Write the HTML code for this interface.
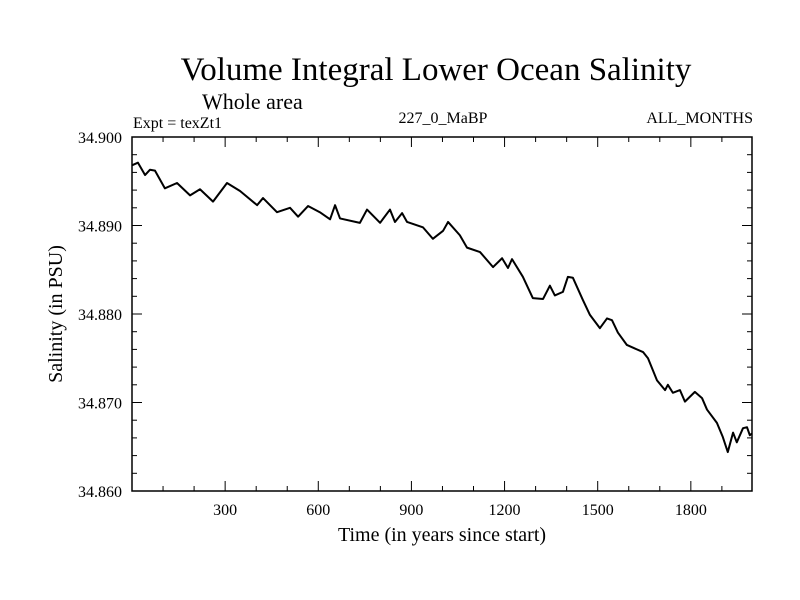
<!DOCTYPE html>
<html><head><meta charset="utf-8"><style>
body{margin:0;background:#fff}
svg{display:block;font-family:"Liberation Serif",serif}
</style></head><body>
<svg id="chart" width="800" height="600" viewBox="0 0 800 600">
<text x="436" y="80" font-size="33" text-anchor="middle">Volume Integral Lower Ocean Salinity</text>
<text x="202" y="109" font-size="22">Whole area</text>
<text x="133" y="128" font-size="16">Expt = texZt1</text>
<text x="443" y="123" font-size="16" text-anchor="middle">227_0_MaBP</text>
<text x="753" y="123" font-size="16" text-anchor="end">ALL_MONTHS</text>
<text x="442" y="541" font-size="20" text-anchor="middle">Time (in years since start)</text>
<text transform="translate(62,314) rotate(-90)" font-size="20" text-anchor="middle">Salinity (in PSU)</text>
<g id="axes"></g>
<rect x="132" y="137" width="620" height="354" fill="none" stroke="#000" stroke-width="1.5"/>
</svg>
<script>
const years=[0,19,42,58,74,106,145,187,219,261,306,348,403,422,467,509,535,567,605,638,654,670,734,757,799,831,847,870,886,937,969,1002,1018,1056,1079,1121,1163,1192,1211,1224,1259,1291,1324,1346,1362,1388,1404,1420,1452,1475,1507,1530,1546,1565,1594,1646,1662,1691,1717,1726,1742,1765,1781,1813,1836,1852,1884,1903,1919,1936,1948,1968,1981,1990,1997];
const salinity=[34.8968,34.8971,34.8957,34.8963,34.8962,34.8942,34.8948,34.8934,34.8941,34.8927,34.8948,34.8939,34.8923,34.8931,34.8915,34.8920,34.8910,34.8922,34.8915,34.8907,34.8923,34.8908,34.8903,34.8918,34.8903,34.8918,34.8904,34.8914,34.8904,34.8898,34.8885,34.8894,34.8904,34.8889,34.8875,34.8870,34.8853,34.8863,34.8852,34.8862,34.8842,34.8818,34.8817,34.8832,34.8821,34.8825,34.8842,34.8841,34.8816,34.8799,34.8784,34.8795,34.8793,34.8779,34.8765,34.8757,34.8750,34.8725,34.8714,34.8720,34.8711,34.8714,34.8701,34.8712,34.8705,34.8692,34.8677,34.8661,34.8644,34.8666,34.8655,34.8671,34.8672,34.8663,34.8665];
const xTickLabels=[300,600,900,1200,1500,1800];
const yTickLabels=["34.860","34.870","34.880","34.890","34.900"];
const X0=132,X1=752,Y0=137,Y1=491,XMIN=0,XMAX=1997,YMIN=34.86,YMAX=34.90;
const sx=v=>X0+(v-XMIN)/(XMAX-XMIN)*(X1-X0);
const sy=v=>Y1-(v-YMIN)/(YMAX-YMIN)*(Y1-Y0);
const NS="http://www.w3.org/2000/svg";
const g=document.getElementById('axes');
function mk(t,a){const e=document.createElementNS(NS,t);for(const k in a)e.setAttribute(k,a[k]);g.appendChild(e);return e;}
for(let v=100;v<XMAX;v+=100){const major=v%300===0;const L=major?10:5;
 const t1=mk('line',{x1:sx(v),x2:sx(v),y1:Y1,y2:Y1-L,stroke:'#000','stroke-width':1});
 
 
 const t2=mk('line',{x1:sx(v),x2:sx(v),y1:Y0,y2:Y0+L,stroke:'#000','stroke-width':1});
 
 }
xTickLabels.forEach(v=>{const t=mk('text',{x:sx(v),y:Y1+24,'font-size':16,'text-anchor':'middle'});t.textContent=v;
 
 });
for(let i=0;i<=20;i++){const v=YMIN+i*0.002;const major=i%5===0;const L=major?10:5;
 const a=mk('line',{x1:X0,x2:X0+L,y1:sy(v),y2:sy(v),stroke:'#000','stroke-width':1});
 
 
 const b=mk('line',{x1:X1,x2:X1-L,y1:sy(v),y2:sy(v),stroke:'#000','stroke-width':1});
 
 }
yTickLabels.forEach(s=>{const t=mk('text',{x:X0-10,y:sy(parseFloat(s))+6,'font-size':16,'text-anchor':'end'});t.textContent=s;
 
 });
const p=mk('polyline',{points:years.map((y,i)=>sx(y)+','+sy(salinity[i])).join(' '),fill:'none',stroke:'#000','stroke-width':2,'stroke-linejoin':'round'});


</script>
</body></html>
